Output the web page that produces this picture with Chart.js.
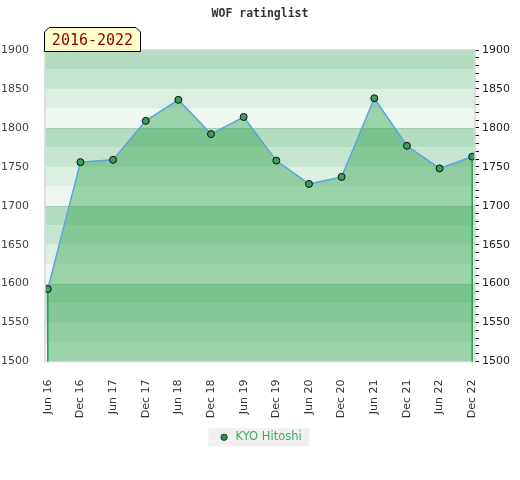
<!DOCTYPE html>
<html lang="en">
<head>
  <meta charset="UTF-8">
  <title>WOF ratinglist</title>
  <script src="https://cdn.jsdelivr.net/npm/chart.js"></script>
  <style>
    body {
      margin: 0;
      background: #FFFFFF;
    }
    .wrap {
      position: relative;
      width: 520px;
      height: 480px;
    }
    .title {
      position: absolute;
      top: 6px;
      left: 0;
      width: 520px;
      text-align: center;
      font-family: "DejaVu Sans Mono", monospace;
      font-weight: bold;
      font-size: 11.5px;
      color: #333;
    }
    .badge {
      position: absolute;
      left: 44px;
      top: 26px;
    }
    canvas {
      position: absolute;
      left: 0;
      top: 0;
    }
  </style>
</head>
<body>
  <div class="wrap">
    <canvas id="ratingChart" width="520" height="480"></canvas>
    <div class="title">WOF ratinglist</div>
    <svg class="badge" width="98" height="26" viewBox="0 0 98 26">
      <polygon points="0.5,25.5 0.5,6 5,1.5 92,1.5 96.5,6 96.5,25.5" fill="#FFFFCC" stroke="#000" stroke-width="1"/>
      <text x="48.5" y="19" text-anchor="middle" font-family="DejaVu Sans Mono, monospace" font-size="15" fill="#8B0000">2016-2022</text>
    </svg>
  </div>

  <script>
    // valeurs
    const periods = ["Jun 16", "Dec 16", "Jun 17", "Dec 17", "Jun 18", "Dec 18", "Jun 19",
                     "Dec 19", "Jun 20", "Dec 20", "Jun 21", "Dec 21", "Jun 22", "Dec 22"];
    const ratings = [1593, 1756, 1759, 1809, 1836, 1792, 1814, 1758, 1728, 1737, 1838, 1777, 1748, 1763];
    const playerName = "KYO Hitoshi";
    const yMin = 1500;
    const yMax = 1900;

    const bandColors = ["#B3DCC0", "#C6E5D0", "#DCEFE2", "#EFF7F1"];

    // bandes horizontales derriere la courbe
    const bandsPlugin = {
      id: "bands",
      beforeDatasetsDraw(chart) {
        const { ctx, chartArea } = chart;
        const y = chart.scales.y;
        ctx.save();
        for (let lo = yMin; lo < yMax; lo += 25) {
          const idx = ((yMax - (lo + 25)) / 25) % 4;
          const top = y.getPixelForValue(lo + 25);
          const bottom = y.getPixelForValue(lo);
          ctx.fillStyle = bandColors[idx];
          ctx.fillRect(chartArea.left, top, chartArea.right - chartArea.left, bottom - top);
        }
        ctx.strokeStyle = "rgba(0,0,0,0.07)";
        ctx.lineWidth = 1;
        for (let v = yMin + 100; v < yMax; v += 100) {
          const py = Math.round(y.getPixelForValue(v)) + 0.5;
          ctx.beginPath();
          ctx.moveTo(chartArea.left, py);
          ctx.lineTo(chartArea.right, py);
          ctx.stroke();
        }
        ctx.restore();
      },
      afterDatasetsDraw(chart) {
        const { ctx, chartArea } = chart;
        const pts = chart.getDatasetMeta(0).data;
        ctx.save();
        ctx.strokeStyle = "#D6D6D6";
        ctx.lineWidth = 1.5;
        ctx.strokeRect(chartArea.left, chartArea.top, chartArea.right - chartArea.left, chartArea.bottom - chartArea.top);
        ctx.strokeStyle = "#22A04A";
        ctx.lineWidth = 1.5;
        [pts[0], pts[pts.length - 1]].forEach((p) => {
          ctx.beginPath();
          ctx.moveTo(p.x, p.y + 4);
          ctx.lineTo(p.x, chartArea.bottom);
          ctx.stroke();
        });
        ctx.restore();
      },
      beforeDraw(chart) {
        const boxes = chart.legend && chart.legend.legendHitBoxes;
        if (!boxes || !boxes.length) return;
        const b = boxes[0];
        const { ctx } = chart;
        ctx.save();
        ctx.fillStyle = "#F0F0F0";
        ctx.fillRect(b.left - 10, b.top + b.height / 2 - 9, b.width + 18, 18);
        ctx.restore();
      }
    };

    const ctx = document.getElementById("ratingChart").getContext("2d");
    new Chart(ctx, {
      type: "line",
      data: {
        datasets: [{
          label: playerName,
          data: ratings.map((v, i) => ({ x: i, y: v })),
          fill: "start",
          backgroundColor: "rgba(50, 165, 85, 0.45)",
          borderColor: "#5AA5DC",
          borderWidth: 1.5,
          tension: 0,
          pointRadius: 3.5,
          pointHoverRadius: 3.5,
          pointBackgroundColor: "#3A9D5D",
          pointBorderColor: "#111",
          pointBorderWidth: 1,
        }],
      },
      options: {
        responsive: false,
        animation: false,
        layout: { padding: { top: 50, bottom: 27, left: 0, right: 0 } },
        scales: {
          x: {
            type: "linear",
            min: -0.085,
            max: periods.length - 1 + 0.085,
            grid: { display: false },
            border: { display: false },
            afterBuildTicks: (scale) => {
              scale.ticks = periods.map((_, i) => ({ value: i }));
            },
            afterFit: (scale) => { scale.height = 60; },
            ticks: {
              autoSkip: false,
              minRotation: 90,
              maxRotation: 90,
              padding: 10,
              color: "#333",
              font: { family: "DejaVu Sans", size: 11 },
              callback: (v) => periods[v],
            },
          },
          y: {
            position: "left",
            min: yMin,
            max: yMax,
            grid: { display: false },
            border: { display: false },
            afterFit: (scale) => { scale.width = 45; },
            ticks: {
              stepSize: 50,
              padding: 8,
              color: "#444",
              font: { family: "DejaVu Sans", size: 11 },
              callback: (v) => String(v),
            },
          },
          y2: {
            position: "right",
            min: yMin,
            max: yMax,
            border: { display: false },
            grid: {
              drawOnChartArea: false,
              drawTicks: true,
              tickLength: 4,
              color: "#000",
              lineWidth: 1,
            },
            afterFit: (scale) => { scale.width = 45; },
            ticks: {
              stepSize: 10,
              autoSkip: false,
              padding: 3,
              color: "#222",
              font: { family: "DejaVu Sans", size: 11 },
              callback: (v) => (v % 50 === 0 ? String(v) : ""),
            },
          },
        },
        plugins: {
          legend: {
            position: "bottom",
            labels: {
              usePointStyle: true,
              boxWidth: 12,
              boxHeight: 4.5,
              padding: 10,
              color: "#3AAE5E",
              font: { family: "DejaVu Sans", size: 11.5 },
              generateLabels: () => [{
                text: playerName,
                fillStyle: "#2E8B57",
                strokeStyle: "#1A4D2E",
                lineWidth: 1,
                pointStyle: "circle",
                fontColor: "#3AAE5E",
                datasetIndex: 0,
              }],
            },
          },
          tooltip: { enabled: false },
        },
      },
      plugins: [bandsPlugin],
    });
  </script>
</body>
</html>
